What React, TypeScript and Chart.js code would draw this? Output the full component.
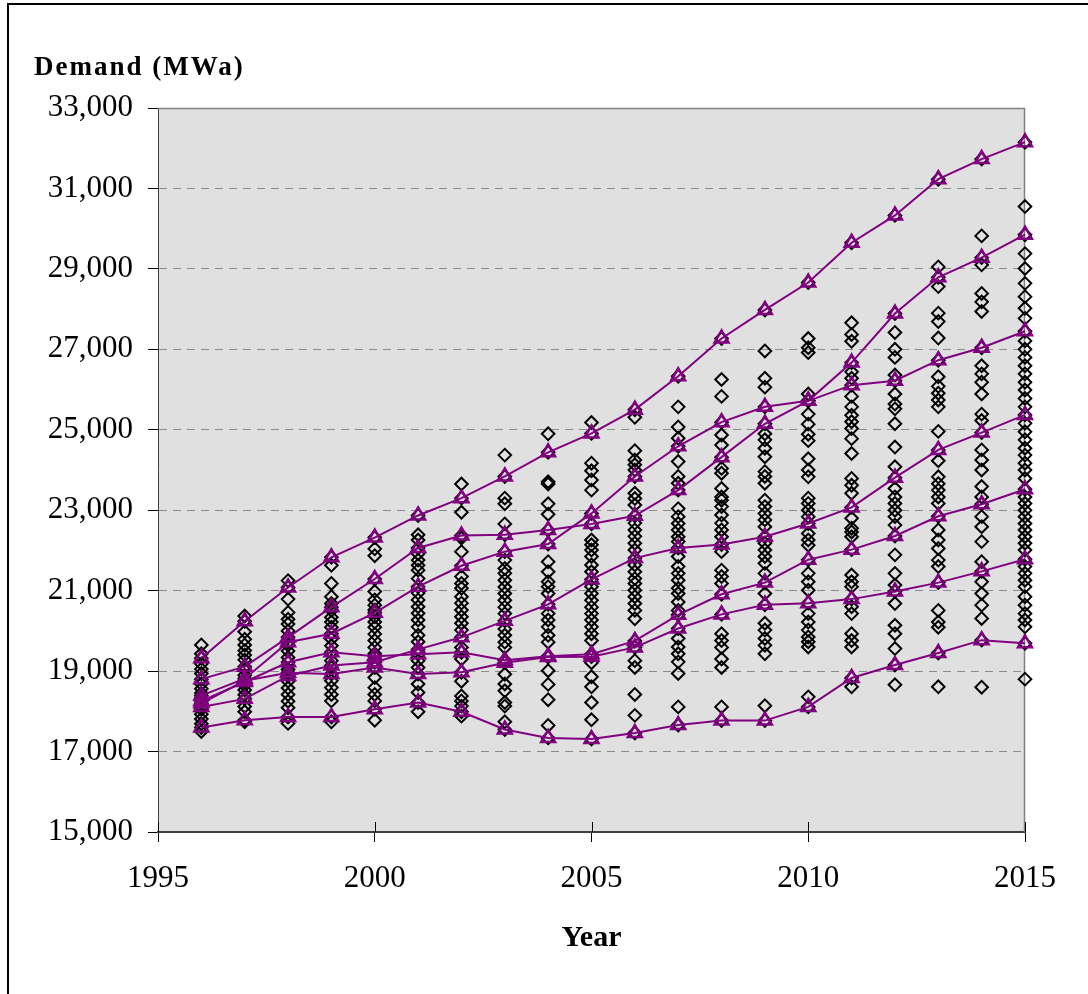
import React, { useEffect, useRef } from "react";
import { Chart, registerables } from "chart.js";

Chart.register(...registerables);

// ---------- data ----------
const years = [1996, 1997, 1998, 1999, 2000, 2001, 2002, 2003, 2004, 2005, 2006, 2007, 2008, 2009, 2010, 2011, 2012, 2013, 2014, 2015];

const line1 = [19320, 20240, 21080, 21830, 22320, 22870, 23300, 23840, 24440, 24910, 25500, 26330, 27270, 27980, 28660, 29650, 30330, 31230, 31730, 32150];
const line2 = [18800, 19110, 19840, 20590, 21290, 22060, 22370, 22390, 22510, 22660, 22860, 23500, 24320, 25150, 25720, 26670, 27890, 28790, 29280, 29850];
const line3 = [18390, 18810, 19720, 19930, 20450, 21100, 21620, 21970, 22160, 22920, 23840, 24590, 25190, 25570, 25720, 26110, 26220, 26730, 27040, 27450];
const line4 = [18110, 18310, 18880, 19140, 19220, 19540, 19840, 20250, 20660, 21280, 21810, 22060, 22150, 22340, 22670, 23070, 23810, 24500, 24930, 25370];
const line5 = [18260, 18730, 19220, 19470, 19370, 19420, 19470, 19270, 19370, 19420, 19750, 20400, 20910, 21200, 21770, 22020, 22360, 22850, 23150, 23520];
const line6 = [18200, 18760, 18960, 18930, 19090, 18930, 18970, 19210, 19350, 19360, 19590, 20060, 20410, 20650, 20690, 20790, 20980, 21200, 21480, 21780];
const line7 = [17600, 17780, 17860, 17860, 18050, 18220, 17990, 17550, 17340, 17310, 17460, 17660, 17770, 17770, 18110, 18830, 19150, 19450, 19770, 19690];
const lineSeries = [line1, line2, line3, line4, line5, line6, line7];

const d1996 = [19650, 19430, 19180, 19050, 18940, 18680, 18560, 18450, 18330, 18050, 17930, 17810, 17690, 17500];
const d1997 = [20370, 19980, 19790, 19650, 19510, 19400, 19280, 19030, 18900, 18650, 18530, 18410, 18120, 17990, 17740];
const d1998 = [21250, 20790, 20460, 20290, 20170, 20000, 19650, 19500, 19340, 19040, 18750, 18580, 18420, 18250, 18090, 17700];
const d1999 = [21630, 21180, 20850, 20680, 20510, 20340, 20220, 20090, 19800, 19630, 19260, 19090, 18760, 18590, 18420, 18260, 17740];
const d2000 = [22040, 21870, 20980, 20770, 20640, 20520, 20350, 20220, 20090, 19920, 19760, 19590, 19430, 18840, 18590, 18420, 18260, 17780];
const d2001 = [22390, 22260, 21920, 21760, 21630, 21510, 21300, 20940, 20770, 20600, 20440, 20270, 20100, 19890, 19730, 19260, 19090, 18680, 18470, 17990];
const d2002 = [23650, 22950, 22310, 21970, 21350, 21180, 21060, 20850, 20690, 20520, 20350, 20190, 20020, 19590, 19300, 18750, 18380, 18260, 18130, 17880];
const d2003 = [24370, 23300, 23160, 22660, 21760, 21550, 21430, 21260, 21090, 20930, 20760, 20590, 20430, 20050, 19890, 19720, 19590, 18920, 18680, 18510, 18220, 18130, 17740];
const d2004 = [24900, 23710, 23650, 23160, 22900, 21720, 21470, 21220, 21100, 20930, 20430, 20270, 20100, 19890, 19720, 19010, 18670, 18290, 17650];
const d2005 = [25180, 24170, 23980, 23750, 23500, 22260, 22140, 22010, 21850, 21640, 21470, 21100, 20930, 20760, 20590, 20430, 20270, 20100, 19930, 19760, 19210, 18860, 18610, 18220, 17790];
const d2006 = [25310, 24480, 24250, 24130, 24000, 23420, 23290, 23130, 22680, 22510, 22350, 22180, 22010, 21640, 21470, 21300, 21180, 21010, 20850, 20680, 20510, 20300, 19260, 19090, 18420, 17900];
const d2007 = [25570, 25070, 24790, 24210, 23840, 23670, 23040, 22840, 22670, 22510, 22340, 22220, 21850, 21600, 21430, 21260, 21060, 20930, 20720, 20510, 19810, 19600, 19430, 19230, 18940, 18110];
const d2008 = [26250, 25830, 24870, 24620, 24040, 23920, 23540, 23330, 23250, 23090, 22880, 22680, 22510, 22340, 21970, 21510, 21350, 21180, 19930, 19760, 19590, 19300, 19090, 18110];
const d2009 = [26960, 26280, 26060, 24900, 24750, 24540, 24330, 23960, 23840, 23670, 23250, 23090, 22920, 22760, 22590, 22180, 22010, 21850, 21680, 21430, 20930, 20190, 20020, 19810, 19640, 19430, 18140];
const d2010 = [27270, 27040, 26920, 25890, 25390, 25140, 24890, 24730, 24280, 24000, 23830, 23300, 23170, 23000, 22840, 22420, 22260, 22130, 21430, 21220, 21010, 20430, 20220, 20020, 19850, 19730, 19600, 18360];
const d2011 = [27660, 27370, 27200, 26440, 26280, 25830, 25570, 25360, 25200, 25030, 24780, 24410, 23790, 23620, 23420, 22800, 22550, 22460, 22340, 21390, 21220, 21100, 20600, 20430, 19930, 19760, 19600, 18610];
const d2012 = [27420, 27000, 26800, 26360, 25890, 25640, 25520, 25150, 24570, 24080, 23540, 23330, 23170, 23000, 22840, 22630, 21890, 21430, 21140, 20680, 20140, 19930, 19560, 18660];
const d2013 = [29050, 28560, 27900, 27690, 27280, 26320, 26080, 25910, 25740, 25570, 24960, 24230, 23830, 23660, 23500, 23330, 23170, 22510, 22260, 22050, 21760, 21600, 20510, 20220, 20090, 18610];
const d2014 = [29820, 29100, 28390, 28180, 27940, 26590, 26390, 26180, 25890, 25390, 25230, 24500, 24250, 24000, 23590, 23330, 22840, 22590, 22220, 21720, 21220, 20930, 20640, 20310, 18600];
const d2015 = [30550, 29380, 29010, 28640, 28310, 28020, 27770, 27210, 27000, 26800, 26590, 26390, 26180, 25990, 25780, 25570, 25160, 24950, 24750, 24540, 24370, 24170, 24000, 23790, 23330, 23170, 23000, 22840, 22670, 22510, 22340, 22180, 22010, 21600, 21430, 21260, 21100, 20850, 20640, 20430, 20270, 20100, 18800];
const diamondsByYear = [d1996, d1997, d1998, d1999, d2000, d2001, d2002, d2003, d2004, d2005, d2006, d2007, d2008, d2009, d2010, d2011, d2012, d2013, d2014, d2015];

const xTicks = [1995, 2000, 2005, 2010, 2015];
const yTicks = [15000, 17000, 19000, 21000, 23000, 25000, 27000, 29000, 31000, 33000];

const xTitle = "Year";
const yTitle = "Demand (MWa)";

const SERIF = "'Liberation Serif', 'Times New Roman', Times, serif";
const PURPLE = "#800080";

export default function App() {
  const ref = useRef<HTMLCanvasElement>(null);

  useEffect(() => {
    const canvas = ref.current;
    if (!canvas) return;

    const diamondPoints: { x: number; y: number }[] = [];
    years.forEach((yr, i) => {
      diamondsByYear[i].forEach((v) => diamondPoints.push({ x: yr, y: v }));
      lineSeries.forEach((s) => diamondPoints.push({ x: yr, y: s[i] }));
    });

    const framePlugin = {
      id: "framePlugin",
      beforeDraw(chart: any) {
        const { ctx, chartArea: a } = chart;
        ctx.save();
        ctx.fillStyle = "#ffffff";
        ctx.fillRect(0, 0, chart.width, chart.height);
        ctx.fillStyle = "#e0e0e0";
        ctx.fillRect(a.left, a.top, a.right - a.left, a.bottom - a.top);
        ctx.restore();
      },
      beforeDatasetsDraw(chart: any) {
        const { ctx, chartArea: a } = chart;
        ctx.save();
        ctx.strokeStyle = "#808080";
        ctx.lineWidth = 1.5;
        ctx.beginPath();
        ctx.moveTo(a.left, a.top + 0.5);
        ctx.lineTo(a.right - 0.5, a.top + 0.5);
        ctx.lineTo(a.right - 0.5, a.bottom);
        ctx.stroke();
        // inner half of x tick marks
        const xs = chart.scales.x;
        ctx.strokeStyle = "#000";
        ctx.lineWidth = 1;
        xTicks.forEach((v) => {
          const px = Math.round(xs.getPixelForValue(v)) + 0.5;
          ctx.beginPath();
          ctx.moveTo(px, a.bottom - 10);
          ctx.lineTo(px, a.bottom);
          ctx.stroke();
        });
        ctx.restore();
      },
      afterDraw(chart: any) {
        const { ctx } = chart;
        ctx.save();
        ctx.fillStyle = "#000";
        ctx.fillRect(7, 3, chart.width - 7, 2);
        ctx.fillRect(7, 3, 2, chart.height - 3);
        ctx.font = `bold 27px ${SERIF}`;
        (ctx as any).letterSpacing = "2px";
        ctx.textAlign = "left";
        ctx.textBaseline = "alphabetic";
        ctx.fillText(yTitle, 34, 75);
        ctx.restore();
      },
    };

    const chart = new Chart(canvas, {
      type: "scatter",
      data: {
        datasets: [
          ...lineSeries.map((s, k) => ({
            label: `Line ${k + 1}`,
            data: years.map((yr, i) => ({ x: yr, y: s[i] })),
            showLine: true,
            borderColor: PURPLE,
            borderWidth: 2,
            pointStyle: "triangle",
            pointRadius: 8,
            pointHoverRadius: 8,
            pointBorderColor: PURPLE,
            pointBorderWidth: 2.5,
            pointBackgroundColor: "rgba(0,0,0,0)",
            fill: false,
            tension: 0,
            clip: false,
            order: 0,
          })),
          {
            label: "Scenarios",
            data: diamondPoints,
            showLine: false,
            pointStyle: "rectRot",
            pointRadius: 6.3,
            pointHoverRadius: 6.3,
            pointBorderColor: "#000",
            pointBorderWidth: 2,
            pointBackgroundColor: "rgba(0,0,0,0)",
            clip: false,
            order: 1,
          },
        ] as any,
      },
      options: {
        responsive: false,
        animation: false,
        devicePixelRatio: 1,
        layout: { padding: { top: 108, right: 63, left: 0, bottom: 0 } },
        plugins: {
          legend: { display: false },
          tooltip: { enabled: false },
          title: { display: false },
        },
        scales: {
          x: {
            type: "linear",
            min: 1995,
            max: 2015,
            afterBuildTicks: (s: any) => {
              s.ticks = xTicks.map((v) => ({ value: v }));
            },
            afterFit: (s: any) => {
              s.height = 162;
            },
            ticks: {
              font: { family: SERIF, size: 31 },
              color: "#000",
              padding: 18,
              maxRotation: 0,
              autoSkip: false,
              callback: (v: any) => String(v),
            },
            grid: {
              drawOnChartArea: false,
              tickLength: 10,
              tickColor: "#000",
              color: "#000",
            },
            border: { color: "#404040", width: 2 },
            title: {
              display: true,
              text: xTitle,
              font: { family: SERIF, size: 30, weight: "bold" },
              color: "#000",
              padding: { top: 0, bottom: 38 },
            },
          },
          y: {
            type: "linear",
            min: 15000,
            max: 33000,
            afterBuildTicks: (s: any) => {
              s.ticks = yTicks.map((v) => ({ value: v }));
            },
            afterFit: (s: any) => {
              s.width = 158;
            },
            ticks: {
              font: { family: SERIF, size: 31 },
              color: "#000",
              padding: 15,
              callback: (v: any) => Number(v).toLocaleString("en-US"),
            },
            grid: {
              color: (c: any) =>
                c.tick && (c.tick.value === 15000 || c.tick.value === 33000) ? "rgba(0,0,0,0)" : "#8c8c8c",
              tickColor: "#000",
              tickLength: 10,
              lineWidth: 1,
            },
            border: { color: "#404040", width: 1, dash: [8, 6] },
          },
        },
      } as any,
      plugins: [framePlugin],
    });

    return () => chart.destroy();
  }, []);

  return (
    <canvas
      ref={ref}
      width={1088}
      height={994}
      style={{ position: "absolute", left: 0, top: 0, width: 1088, height: 994, display: "block" }}
    />
  );
}
